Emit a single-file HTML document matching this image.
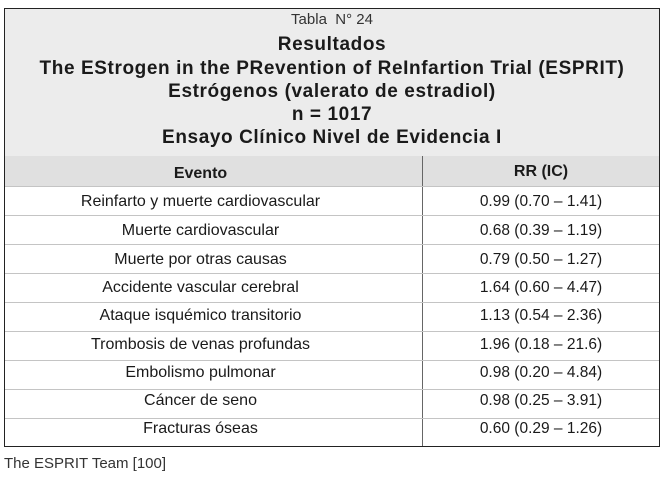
<!DOCTYPE html>
<html><head><meta charset="utf-8"><style>
body{margin:0;width:671px;height:483px;background:#fff;position:relative;overflow:hidden;font-family:"Liberation Sans",sans-serif;color:#1a1a1a}
.box{position:absolute;left:4px;top:8px;width:654px;height:437px;border:1.5px solid #222;}
.hdr{position:absolute;left:0;top:0;width:654px;height:147px;background:#ececec}
.evh{position:absolute;left:0;top:147px;width:654px;height:30px;background:#e0e0e0}
.t{position:absolute;left:0;width:654px;text-align:center;white-space:nowrap}
.b{font-weight:bold;font-size:19px;letter-spacing:0.6px}
.div{position:absolute;left:417px;top:147px;width:1px;height:290px;background:#666}
.line{position:absolute;left:0;width:654px;height:1px;background:#c4c4c4}
.c1{position:absolute;left:0;width:391px;text-align:center;font-size:16px}
.c2{position:absolute;left:418px;width:236px;text-align:center;font-size:15.5px}
</style></head><body>
<div class="box">
<div class="hdr"></div><div class="evh"></div>
<div class="t" style="top:2px;font-size:15px;color:#333">Tabla&nbsp; N° 24</div>
<div class="t b" style="top:25px">Resultados</div>
<div class="t b" style="top:49px">The EStrogen in the PRevention of ReInfartion Trial (ESPRIT)</div>
<div class="t b" style="top:72px">Estrógenos (valerato de estradiol)</div>
<div class="t b" style="top:95px">n = 1017</div>
<div class="t b" style="top:118px">Ensayo Clínico Nivel de Evidencia I</div>
<div class="c1" style="top:156px;font-weight:bold;font-size:16px">Evento</div>
<div class="c2" style="top:154px;font-weight:bold;font-size:16px">RR (IC)</div>
<div class="div"></div>
<div class="line" style="top:177px"></div>
<div class="line" style="top:206px"></div>
<div class="line" style="top:235px"></div>
<div class="line" style="top:264px"></div>
<div class="line" style="top:293px"></div>
<div class="line" style="top:322px"></div>
<div class="line" style="top:351px"></div>
<div class="line" style="top:380px"></div>
<div class="line" style="top:409px"></div>
<div class="c1" style="top:184px">Reinfarto y muerte cardiovascular</div><div class="c2" style="top:184px">0.99 (0.70 – 1.41)</div>
<div class="c1" style="top:213px">Muerte cardiovascular</div><div class="c2" style="top:213px">0.68 (0.39 – 1.19)</div>
<div class="c1" style="top:242px">Muerte por otras causas</div><div class="c2" style="top:242px">0.79 (0.50 – 1.27)</div>
<div class="c1" style="top:270px">Accidente vascular cerebral</div><div class="c2" style="top:270px">1.64 (0.60 – 4.47)</div>
<div class="c1" style="top:298px">Ataque isquémico transitorio</div><div class="c2" style="top:298px">1.13 (0.54 – 2.36)</div>
<div class="c1" style="top:327px">Trombosis de venas profundas</div><div class="c2" style="top:327px">1.96 (0.18 – 21.6)</div>
<div class="c1" style="top:355px">Embolismo pulmonar</div><div class="c2" style="top:355px">0.98 (0.20 – 4.84)</div>
<div class="c1" style="top:383px">Cáncer de seno</div><div class="c2" style="top:383px">0.98 (0.25 – 3.91)</div>
<div class="c1" style="top:411px">Fracturas óseas</div><div class="c2" style="top:411px">0.60 (0.29 – 1.26)</div>
</div>
<div style="position:absolute;left:4px;top:455px;font-size:15px;color:#333">The ESPRIT Team [100]</div>
</body></html>
